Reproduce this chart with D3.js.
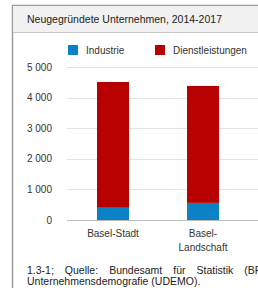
<!DOCTYPE html>
<html>
<head>
<meta charset="utf-8">
<script src="https://d3js.org/d3.v7.min.js"></script>
<style>
  body { margin: 0; background: #fff; }
  svg { display: block; font-family: "Liberation Sans", Arial, sans-serif; }
</style>
</head>
<body>
<svg id="chart" width="258" height="288"></svg>
<script>
// values
var categories = [["Basel-Stadt"], ["Basel-", "Landschaft"]];
var series = ["Industrie", "Dienstleistungen"];
var industrie = [400, 560];
var dienstleistungen = [4110, 3820];
var yTicks = [0, 1000, 2000, 3000, 4000, 5000];
var colors = ["#0b82c6", "#b70000"];

var svg = d3.select("#chart");

// frame + title band
svg.append("rect").attr("x", 12.5).attr("y", 5.5).attr("width", 260).attr("height", 300)
  .attr("fill", "#fff").attr("stroke", "#9a9a9a").attr("stroke-width", 1.5);
svg.append("rect").attr("x", 13).attr("y", 6).attr("width", 250).attr("height", 26)
  .attr("fill", "#f1f1f1");
svg.append("line").attr("x1", 13).attr("x2", 258).attr("y1", 32.5).attr("y2", 32.5)
  .attr("stroke", "#c8c8c8");
svg.append("text").attr("x", 27).attr("y", 23).attr("font-size", 10.5).attr("fill", "#222")
  .text("Neugegründete Unternehmen, 2014-2017");

// legend
var leg = svg.append("g");
var legX = [68, 155];
series.forEach(function(s, i) {
  leg.append("rect").attr("x", legX[i]).attr("y", 45).attr("width", 10).attr("height", 10)
    .attr("fill", colors[i]);
  leg.append("text").attr("x", legX[i] + 18).attr("y", 54).attr("font-size", 10)
    .attr("fill", "#333").text(s);
});

var y = d3.scaleLinear().domain([0, 5000]).range([220, 67]);
var x = d3.scalePoint().domain(d3.range(categories.length)).range([68, 248]).padding(0.5);
var barW = 32;

// grid
svg.append("g").selectAll("line").data(yTicks).join("line")
  .attr("x1", 67).attr("x2", 258)
  .attr("y1", function(d) { return Math.round(y(d)) + 0.5; })
  .attr("y2", function(d) { return Math.round(y(d)) + 0.5; })
  .attr("stroke", function(d) { return d == 0 ? "#bdbdbd" : "#e2e2e2"; });

// y labels
svg.append("g").selectAll("text").data(yTicks).join("text")
  .attr("x", 52).attr("y", function(d) { return y(d) + 3.5; })
  .attr("text-anchor", "end").attr("font-size", 10).attr("fill", "#333")
  .text(function(d) { return d3.format(",")(d).replace(",", " "); });

// stacked bars
var rows = categories.map(function(c, i) {
  return { i: i, Industrie: industrie[i], Dienstleistungen: dienstleistungen[i] };
});
var stack = d3.stack().keys(series)(rows);
svg.append("g").selectAll("g").data(stack).join("g")
  .attr("fill", function(d, i) { return colors[i]; })
  .selectAll("rect").data(function(d) { return d; }).join("rect")
  .attr("x", function(d) { return x(d.data.i) - barW / 2; })
  .attr("width", barW)
  .attr("y", function(d) { return y(d[1]); })
  .attr("height", function(d) { return y(d[0]) - y(d[1]); });

// category labels
categories.forEach(function(lines, i) {
  lines.forEach(function(l, k) {
    svg.append("text").attr("x", x(i)).attr("y", 237 + k * 14)
      .attr("text-anchor", "middle").attr("font-size", 10).attr("fill", "#333").text(l);
  });
});

// footnote, justified line 1 (runs past the right edge like the original)
var foot1 = ["1.3-1;", "Quelle:", "Bundesamt", "für", "Statistik", "(BFS),"];
var fx = 27;
var gap = 11;
var fg = svg.append("g").attr("font-size", 10.5).attr("fill", "#222");
foot1.forEach(function(w) {
  var t = fg.append("text").attr("x", fx).attr("y", 274).text(w);
  fx += t.node().getComputedTextLength() + gap;
});
fg.append("text").attr("x", 27).attr("y", 285).text("Unternehmensdemografie (UDEMO).");
</script>
</body>
</html>
